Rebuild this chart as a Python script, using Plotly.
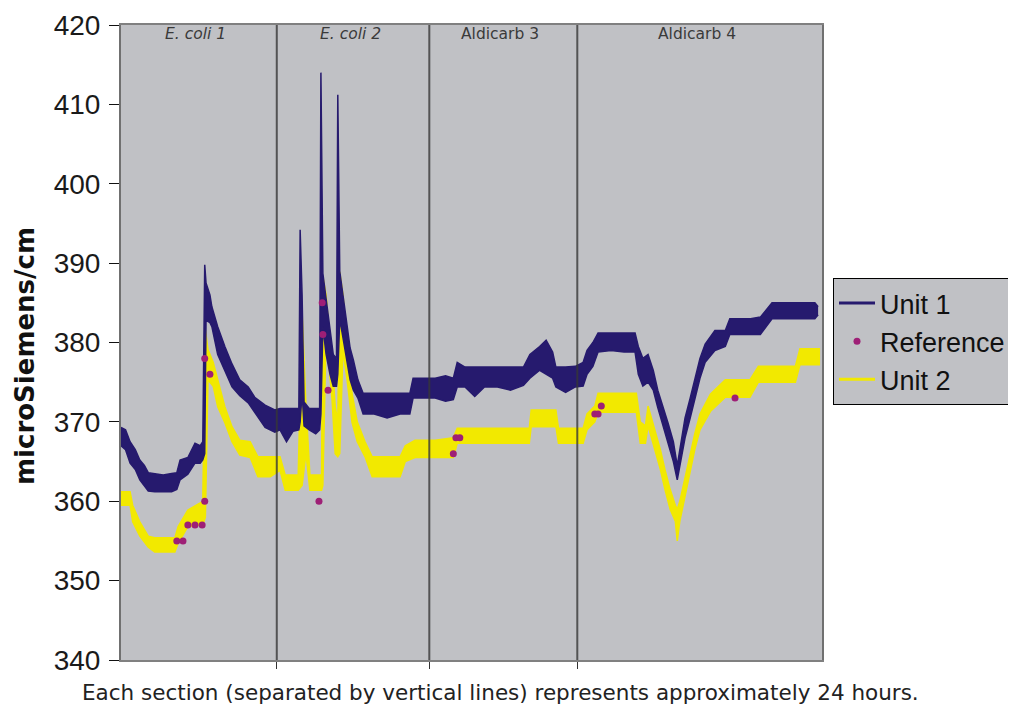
import plotly.graph_objects as go

# ---------------- data (hours since start, microSiemens/cm) ----------------
section_bounds = [0, 24, 47.5, 70.3, 108]
section_names = ["E. coli 1", "E. coli 2", "Aldicarb 3", "Aldicarb 4"]
section_italic = [True, True, False, False]

# Unit 1: noisy band read as (low, high) per time
u1_hours = [0.0, 0.7, 1.4, 2.2, 2.9, 3.6, 4.2, 5.2, 6.5, 7.8, 8.6, 9.1, 10.3, 11.4, 12.2, 12.6,
            12.9, 13.1, 13.7, 14.0, 14.9, 16.0, 17.1, 18.3, 19.6, 20.6, 22.2, 23.7,
            24.5, 25.5, 26.5, 27.4, 27.6, 27.9, 28.2, 29.0, 30.0, 30.6, 30.8, 31.1, 31.6,
            32.2, 32.7, 33.2, 33.4, 33.7, 34.2, 34.8, 35.3, 35.8, 36.5, 37.3, 39.0, 41.0,
            43.0, 44.5, 45.0, 46.8, 48.4, 50.0, 51.2, 51.8, 53.0, 54.5, 56.0, 58.0, 60.0,
            62.0, 63.0, 64.5, 65.5, 66.5, 67.0, 68.5, 70.0, 71.2, 71.8, 72.7, 73.5, 75.5,
            77.5, 79.2, 79.7, 80.4, 81.2, 82.0, 82.7, 83.5, 84.3, 85.1, 85.7, 86.1, 86.9,
            87.7, 88.4, 89.2, 90.0, 91.5, 93.1, 93.8, 97.0, 98.5, 100.3, 104.0, 106.9, 107.4]
u1_low = [367.0, 366.5, 364.8, 364.0, 362.7, 362.0, 361.3, 361.2, 361.2, 361.2, 361.5, 362.7, 363.4, 364.8, 364.8, 365.2,
          366.0, 382.8, 382.5, 382.0, 378.5, 376.5, 374.4, 373.3, 372.4, 371.2, 369.3, 368.7,
          369.0, 367.5, 368.8, 369.0, 370.0, 373.6, 369.5, 369.0, 368.5, 369.0, 371.0, 382.0, 378.5,
          376.0, 374.5, 374.5, 376.0, 383.0, 380.5, 377.8, 375.3, 374.0, 373.0, 371.0, 371.0, 370.5,
          371.0, 371.0, 373.0, 373.0, 373.0, 372.6, 372.8, 374.4, 374.4, 373.2, 374.4, 374.4, 374.0,
          374.6, 375.5, 376.5, 376.0, 375.5, 374.4, 373.7, 374.4, 374.5, 376.0, 377.0, 378.8, 379.0,
          378.8, 378.8, 376.0, 374.5, 375.0, 374.0, 371.8, 369.5, 367.5, 365.0, 362.7, 364.5, 368.0,
          370.5, 373.0, 375.5, 377.5, 379.0, 379.5, 381.0, 381.0, 381.0, 383.0, 383.0, 383.0, 383.5]
u1_high = [369.3, 369.0, 367.5, 366.5, 365.2, 364.5, 363.6, 363.5, 363.3, 363.5, 363.6, 365.2, 365.5, 367.3, 367.0, 367.5,
           389.8, 387.5, 386.0, 384.5, 382.0, 379.5, 377.3, 375.3, 374.4, 373.1, 372.1, 371.5,
           371.7, 371.7, 371.7, 371.7, 394.2, 386.0, 372.5, 371.7, 371.7, 371.7, 414.0, 388.7, 385.5,
           381.5, 378.5, 378.0, 411.2, 389.0, 386.0, 382.5, 379.3, 377.8, 375.3, 373.6, 373.6, 373.6,
           373.6, 373.6, 375.5, 375.5, 375.5, 375.8, 375.5, 377.5, 376.9, 376.9, 376.9, 376.9, 376.9,
           376.9, 378.5, 379.5, 380.3, 378.8, 376.9, 376.9, 377.0, 377.5, 379.0, 380.0, 381.2, 381.2,
           381.2, 381.2, 379.5, 378.0, 378.5, 376.5, 374.0, 372.0, 369.8, 367.5, 364.5, 366.5, 370.5,
           373.0, 375.5, 378.0, 379.8, 381.5, 381.5, 383.0, 383.0, 383.2, 385.0, 385.0, 385.0, 384.5]

# Unit 2: stepped band read as (low, high) per time
u2_hours = [0.0, 1.4, 1.8, 2.9, 4.2, 5.2, 6.8, 8.3, 8.8, 10.3, 12.2, 12.6, 13.0, 13.4, 14.2, 14.9,
            16.0, 17.1, 18.3, 19.9, 21.1, 23.0, 24.5, 25.3, 27.3, 27.9, 28.5, 29.1, 30.9, 31.1,
            31.6, 31.9, 32.5, 33.0, 33.4, 33.7, 34.2, 34.8, 35.6, 36.4, 37.6, 38.7, 41.0, 43.0,
            43.8, 45.3, 48.4, 51.2, 51.8, 55.0, 60.0, 62.9, 63.2, 67.0, 67.4, 70.0, 71.2, 71.8,
            73.0, 73.5, 79.4, 80.0, 80.8, 81.2, 82.3, 83.1, 83.8, 84.6, 85.4, 85.7, 86.1, 86.9,
            87.7, 88.4, 89.2, 90.8, 93.1, 96.9, 98.2, 103.9, 104.6, 107.7]
u2_low = [359.5, 359.5, 357.4, 355.6, 354.2, 353.6, 353.6, 353.6, 354.7, 356.8, 357.0, 357.0, 358.0, 375.3, 374.5, 371.9,
          369.9, 367.5, 365.8, 365.5, 363.1, 363.1, 363.9, 361.4, 361.4, 362.0, 366.0, 361.4, 361.4, 362.0,
          381.0, 378.0, 373.0, 366.0, 365.6, 366.0, 379.0, 375.5, 369.9, 367.5, 365.6, 363.1, 363.1, 363.1,
          365.0, 365.5, 365.5, 365.5, 367.3, 367.3, 367.3, 367.3, 369.4, 369.4, 367.3, 367.3, 367.3, 369.0,
          370.0, 371.2, 371.2, 367.3, 367.3, 369.5, 366.5, 364.0, 361.5, 359.0, 357.5, 355.0, 357.5, 360.5,
          363.5, 366.5, 369.0, 371.3, 373.1, 373.1, 375.0, 375.0, 377.2, 377.2]
u2_high = [361.2, 361.2, 359.5, 357.4, 355.6, 355.4, 355.4, 355.4, 356.8, 358.9, 359.8, 360.0, 381.6, 379.1, 377.5, 375.3,
           371.9, 369.4, 367.7, 367.5, 365.6, 365.6, 365.6, 363.3, 363.3, 383.8, 372.0, 363.3, 363.3, 388.3,
           386.0, 383.0, 378.0, 372.0, 370.0, 388.9, 386.0, 380.0, 373.6, 370.0, 367.5, 365.6, 365.6, 365.6,
           367.0, 367.7, 367.7, 368.0, 369.2, 369.2, 369.2, 369.2, 371.5, 371.5, 369.2, 369.2, 369.2, 371.0,
           372.0, 373.6, 373.6, 370.0, 369.5, 372.0, 369.0, 366.5, 364.0, 361.5, 359.5, 359.0, 360.0, 363.0,
           366.0, 368.5, 371.0, 373.5, 375.3, 375.3, 377.0, 377.0, 379.2, 379.2]

# Reference readings
ref_hours = [8.6, 9.55, 10.3, 11.4, 12.5, 12.9, 12.9, 13.7, 30.5, 31.0, 31.1, 31.9,
             51.2, 51.6, 52.2, 73.0, 73.5, 74.0, 94.6]
ref_values = [355, 355, 357, 357, 357, 360, 378, 376, 360, 385, 381, 374,
              366, 368, 368, 371, 371, 372, 373]

NAVY = "#261A6E"
YELLOW = "#F2E900"
MAGENTA = "#9E1F76"
PLOT_BG = "#C0C1C5"

fig = go.Figure()


def add_band(xs, lo, hi, color):
    fig.add_trace(go.Scatter(x=xs, y=hi, mode="lines", line=dict(color=color, width=1.5),
                             showlegend=False, hoverinfo="skip"))
    fig.add_trace(go.Scatter(x=xs, y=lo, mode="lines", line=dict(color=color, width=1.5),
                             fill="tonexty", fillcolor=color, showlegend=False, hoverinfo="skip"))


add_band(u2_hours, u2_low, u2_high, YELLOW)
add_band(u1_hours, u1_low, u1_high, NAVY)

# legend entries
fig.add_trace(go.Scatter(x=[None], y=[None], mode="lines", name="Unit 1",
                         line=dict(color=NAVY, width=3), legendrank=1))
fig.add_trace(go.Scatter(x=[None], y=[None], mode="lines", name="Unit 2",
                         line=dict(color=YELLOW, width=3), legendrank=3))
fig.add_trace(go.Scatter(x=ref_hours, y=ref_values, mode="markers", name="Reference",
                         marker=dict(color=MAGENTA, size=7, symbol="circle"), legendrank=2))

# section divider lines (drawn above the data)
for b in section_bounds[1:-1]:
    fig.add_shape(type="line", x0=b, x1=b, y0=0, y1=1, xref="x", yref="paper",
                  line=dict(color="rgba(55,55,55,0.8)", width=2), layer="above")

# section labels
for i, name in enumerate(section_names):
    cx = (section_bounds[i] + section_bounds[i + 1]) / 2
    fig.add_annotation(x=cx, y=0.9866, xref="x", yref="paper", text=name, showarrow=False,
                       xanchor="center", yanchor="middle", xshift=-3,
                       font=dict(family="DejaVu Sans", size=15.5, color="#3a3a3a",
                                 style="italic" if section_italic[i] else "normal"))

# y-axis title
fig.add_annotation(x=-0.137, y=0.4787, xref="paper", yref="paper", text="microSiemens/cm",
                   textangle=-90, showarrow=False, xanchor="center", yanchor="middle",
                   font=dict(family="DejaVu Sans", size=26, color="#111111", weight="bold"))

# caption
fig.add_annotation(x=0.542, y=-0.0504, xref="paper", yref="paper",
                   text="Each section (separated by vertical lines) represents approximately 24 hours.",
                   showarrow=False, xanchor="center", yanchor="middle",
                   font=dict(family="DejaVu Sans", size=21.5, color="#222222"))

# the page body adds an 8px offset; the figure is sized so the plot lands where the reference has it
fig.update_layout(
    template="none",
    width=1008, height=696, autosize=False,
    margin=dict(l=113, r=194, t=17, b=44, pad=0, autoexpand=False),
    paper_bgcolor="white", plot_bgcolor=PLOT_BG,
    showlegend=True,
    legend=dict(x=1.0157, y=0.6016, xanchor="left", yanchor="top", traceorder="normal",
                bgcolor=PLOT_BG, bordercolor="black", borderwidth=1,
                font=dict(family="Liberation Sans", size=27, color="#111111"),
                itemwidth=36, tracegroupgap=0),
    xaxis=dict(range=[section_bounds[0], section_bounds[-1]], showgrid=False, zeroline=False,
               tickvals=section_bounds[1:-1], showticklabels=False,
               ticks="outside", ticklen=7, tickcolor="#333333", tickwidth=1,
               showline=True, linecolor="#808080", linewidth=1.5, mirror=True,
               automargin=False),
    yaxis=dict(range=[340, 420], dtick=10, tick0=340, showgrid=False, zeroline=False,
               ticks="outside", ticklen=10, tickcolor="#111111", tickwidth=1,
               tickfont=dict(family="Liberation Sans", size=28, color="#1a1a1a"),
               ticklabelstandoff=3,
               showline=True, linecolor="#707070", linewidth=2, mirror=True,
               automargin=False),
)

fig.write_html("out.html")
